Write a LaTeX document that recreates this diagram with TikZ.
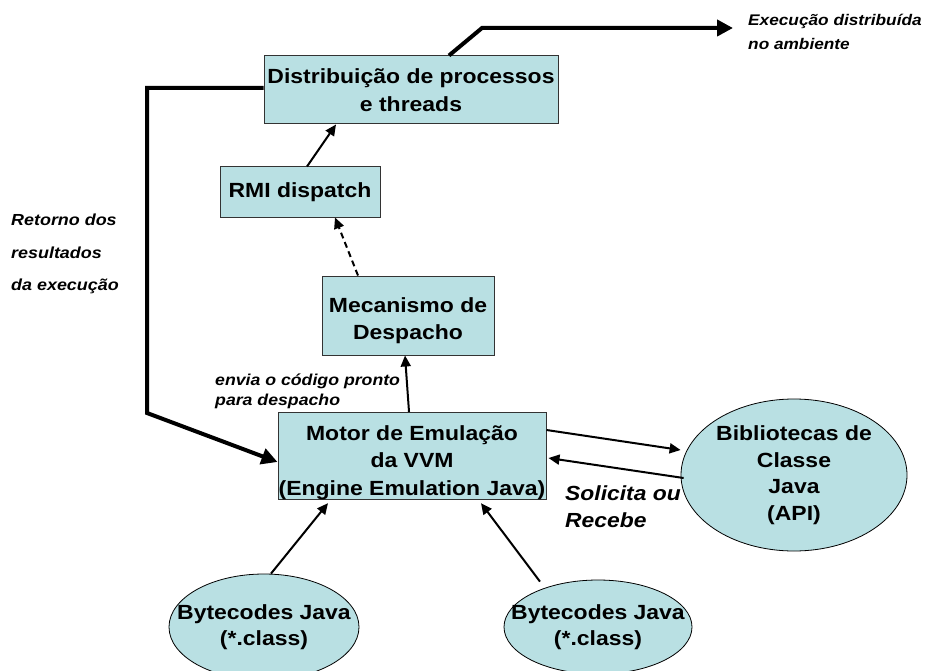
\documentclass[tikz,border=0pt]{standalone}
\usepackage{fontspec}
\setmainfont[FakeStretch=1.12]{Liberation Sans}
\usetikzlibrary{arrows.meta,shapes.geometric}
\definecolor{boxfill}{HTML}{B9E0E3}
\definecolor{boxline}{HTML}{333333}
\begin{document}
\begin{tikzpicture}[x=1pt,y=-1pt,
  box/.style={draw=boxline,line width=1pt,fill=boxfill,align=center,inner sep=0pt,
    font=\bfseries\fontsize{20.5}{27.5}\selectfont},
  oval/.style={ellipse,draw=black,line width=0.8pt,fill=boxfill,align=center,inner sep=0pt,
    font=\bfseries\fontsize{20.5}{26.5}\selectfont},
  thin/.style={line width=2pt,-{Triangle[length=11pt,width=10pt]}},
  thick/.style={line width=4pt,-{Triangle[length=16pt,width=16pt]}},
  lab/.style={font=\bfseries\itshape\fontsize{15}{20}\selectfont,align=left,inner sep=0pt,anchor=north west}
]
\useasboundingbox (0,0) rectangle (925,671);
\node[box,minimum width=294pt,minimum height=68pt] (dist) at (411,90) {Distribuição de processos\\e threads};
\node[box,minimum width=160pt,minimum height=50pt] (rmi) at (300,192) {RMI dispatch};
\node[box,minimum width=172pt,minimum height=79pt] (mec) at (408,315.5) {\rule{0pt}{25pt}Mecanismo de\\Despacho};
\node[box,minimum width=268pt,minimum height=86pt] (mot) at (412,456) {\rule{0pt}{28pt}Motor de Emulação\\da VVM\\(Engine Emulation Java)};
\node[oval,minimum width=226pt,minimum height=152pt] (bib) at (794,475) {Bibliotecas de\\Classe\\Java\\(API)};
\node[oval,inner xsep=-22pt,minimum width=190pt,minimum height=106pt] (bc1) at (264,627) {Bytecodes Java\\(*.class)};
\node[oval,inner xsep=-22pt,minimum width=188pt,minimum height=94pt] (bc2) at (598,627) {Bytecodes Java\\(*.class)};

\coordinate (c1) at (147,88);
\coordinate (c2) at (147,413);
\coordinate (c3) at (482,28);
\coordinate (c4) at (733,28);
\draw[thick] ([yshift=2pt]dist.west) -- (c1) -- (c2) -- ([yshift=-6pt]mot.west);
\draw[thick] ([xshift=38pt]dist.north) -- (c3) -- (c4);
\draw[thin] ([xshift=7pt]rmi.north) -- ([xshift=-75pt]dist.south);
\draw[thin,dash pattern=on 6pt off 4pt] ([xshift=-50pt]mec.north) -- ([xshift=35pt]rmi.south);
\draw[thin] ([xshift=-3pt]mot.north) -- ([xshift=-3pt]mec.south);
\draw[thin] ([yshift=26pt]mot.east) -- (bib.west |- 0,450);
\draw[thin] ([xshift=3pt]bib.west |- 0,478) -- ([yshift=-2pt,xshift=2pt]mot.east);
\draw[thin] ([xshift=7pt]bc1.north) -- ([xshift=-84pt,yshift=-3pt]mot.south);
\draw[thin] ([xshift=-58pt,yshift=-2pt]bc2.north) -- ([xshift=69pt,yshift=-3pt]mot.south);

\node[lab,font=\bfseries\itshape\fontsize{15.4}{24}\selectfont] (t1) at (748,14) {Execução distribuída\\no ambiente};
\node[lab,font=\bfseries\itshape\fontsize{16}{32.5}\selectfont] (t2) at (11,214) {Retorno dos\\resultados\\da execução};
\node[lab,font=\bfseries\itshape\fontsize{15.8}{20}\selectfont] (t3) at (215,374) {envia o código pronto\\para despacho};
\node[lab,font=\bfseries\itshape\fontsize{20.4}{27}\selectfont] (t4) at (565,486) {Solicita ou\\Recebe};
\end{tikzpicture}
\end{document}
